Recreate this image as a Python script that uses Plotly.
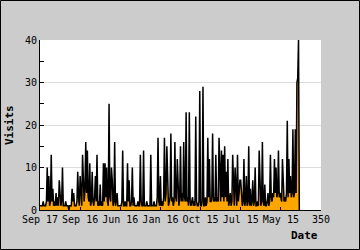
import plotly.graph_objects as go

# Daily visits (index order as plotted, newest first)
visits = [
    1, 1, 1, 1, 2, 1, 1, 1, 2, 10, 2, 8, 1, 2, 13, 2, 5, 1, 2, 1,
    4, 1, 3, 1, 7, 2, 1, 2, 10, 1, 1, 1, 2, 1, 1, 1, 0, 1, 1, 1,
    5, 2, 4, 1, 1, 1, 2, 9, 3, 1, 8, 2, 1, 13, 3, 2, 5, 16, 4, 14,
    3, 2, 11, 1, 2, 9, 2, 1, 3, 8, 2, 13, 1, 2, 1, 6, 1, 2, 1, 11,
    2, 11, 3, 10, 2, 1, 25, 3, 2, 10, 7, 1, 2, 16, 1, 2, 4, 1, 1, 1,
    1, 1, 2, 14, 1, 1, 2, 1, 1, 11, 2, 7, 1, 1, 2, 10, 1, 3, 1, 1,
    1, 1, 2, 1, 1, 13, 2, 1, 1, 14, 1, 1, 1, 2, 1, 1, 1, 1, 13, 1,
    1, 1, 2, 1, 1, 1, 3, 17, 2, 1, 8, 1, 2, 1, 3, 17, 2, 4, 15, 2,
    1, 2, 3, 18, 2, 3, 1, 2, 16, 3, 2, 12, 2, 1, 3, 15, 2, 4, 2, 16,
    3, 2, 23, 2, 3, 1, 23, 2, 1, 2, 3, 1, 2, 1, 22, 2, 1, 1, 2, 28,
    1, 1, 2, 29, 1, 1, 3, 1, 2, 17, 3, 12, 2, 2, 3, 18, 2, 3, 2, 13,
    2, 3, 2, 17, 3, 2, 14, 3, 13, 2, 15, 3, 9, 2, 12, 1, 2, 4, 1, 2,
    13, 2, 1, 10, 2, 1, 13, 2, 4, 7, 7, 2, 1, 2, 12, 1, 2, 8, 1, 2,
    15, 1, 5, 1, 2, 7, 1, 2, 10, 1, 1, 2, 1, 14, 2, 1, 2, 16, 2, 1,
    6, 1, 1, 2, 4, 1, 2, 13, 3, 2, 4, 3, 12, 4, 10, 3, 4, 14, 3, 4,
    3, 2, 12, 3, 2, 3, 2, 4, 21, 3, 12, 4, 8, 3, 4, 19, 3, 4, 19, 4,
    30, 31, 40, 0,
]
tick_positions = [0, 50, 100, 150, 200, 250, 300, 350]
tick_labels = ["Sep 17", "Sep 16", "Jun 16", "Jan 16", "Oct 15", "Jul 15", "May 15", "350"]
y_ticks = [0, 10, 20, 30, 40]

W, H = 360, 250
L, R, T, B = 40, 39, 40, 40
pw, ph = W - L - R, H - T - B

fig = go.Figure()
fig.add_trace(go.Scatter(
    x=list(range(len(visits))), y=visits, mode="lines",
    line=dict(color="black", width=1.5), fill="tozeroy", fillcolor="#ffa500",
    hoverinfo="skip", showlegend=False,
))

mono = "DejaVu Sans Mono"
fig.update_layout(
    width=W, height=H, margin=dict(l=L, r=R, t=T, b=B),
    paper_bgcolor="#cccccc", plot_bgcolor="white",
    font=dict(family=mono, size=10, color="black"),
    xaxis=dict(range=[0, 350], tickvals=tick_positions, ticktext=tick_labels,
               ticks="inside", ticklen=3, tickcolor="black", showline=True,
               linecolor="black", linewidth=1, showgrid=False, zeroline=False,
               tickfont=dict(family=mono, size=10)),
    yaxis=dict(range=[0, 40], tickvals=y_ticks, ticks="inside", ticklen=4,
               tickcolor="black", showline=True, linecolor="black", linewidth=1,
               showgrid=True, gridcolor="#dddddd", zeroline=False,
               minor=dict(dtick=5, ticks="inside", ticklen=4, tickcolor="black", showgrid=False),
               tickfont=dict(family=mono, size=10)),
    annotations=[
        dict(text="<b>Visits</b>", xref="paper", yref="paper",
             x=(9 - L) / pw, y=0.5, xanchor="center", yanchor="middle",
             textangle=-90, showarrow=False,
             font=dict(family=mono, size=11)),
        dict(text="<b>Date</b>", xref="paper", yref="paper",
             x=(320 - L) / pw, y=-(236 - (T + ph)) / ph, xanchor="right", yanchor="middle",
             showarrow=False, font=dict(family=mono, size=11)),
    ],
    shapes=[dict(type="rect", xref="paper", yref="paper",
                 x0=-(L - 0.5) / pw, x1=(W - L - 0.5) / pw,
                 y0=-(B - 0.5) / ph, y1=(H - B - 0.5) / ph,
                 line=dict(color="black", width=1), layer="above")],
)
fig.write_html("out.html")
